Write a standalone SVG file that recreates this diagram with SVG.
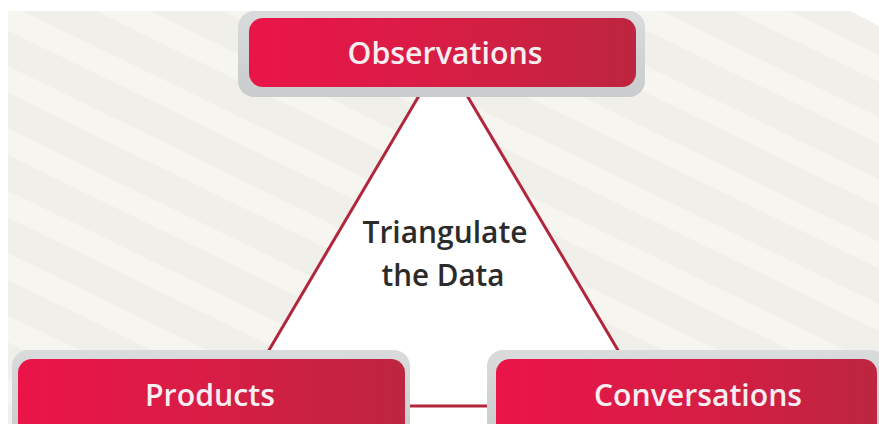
<svg xmlns="http://www.w3.org/2000/svg" width="879" height="424" viewBox="0 0 879 424">
  <defs>
    <linearGradient id="red" x1="0" y1="0" x2="1" y2="0">
      <stop offset="0" stop-color="#ea1449"/>
      <stop offset="0.5" stop-color="#d81d45"/>
      <stop offset="1" stop-color="#bd2540"/>
    </linearGradient>
    <linearGradient id="frame" x1="0" y1="0" x2="0" y2="1">
      <stop offset="0" stop-color="#d9dbdc"/>
      <stop offset="1" stop-color="#c9cccd"/>
    </linearGradient>
    <pattern id="stripes" width="56" height="56" patternUnits="userSpaceOnUse" patternTransform="rotate(26)">
      <rect width="56" height="56" fill="#f1efe9"/>
      <rect width="56" height="24" fill="#f6f5f0"/>
    </pattern>
    <style>
      .frame { fill: url(#frame); }
      .box { fill: url(#red); }
      .label { font-family: "Open Sans", "Liberation Sans", sans-serif; font-weight: 600; font-size: 30px; fill: #f6eef0; text-anchor: middle; }
      .center { font-family: "Open Sans", "Liberation Sans", sans-serif; font-weight: 600; font-size: 30px; fill: #2b2b2b; text-anchor: middle; }
      .conn { stroke: #b2263c; stroke-width: 3; fill: none; }
    </style>
  </defs>

  <!-- background -->
  <rect x="0" y="0" width="879" height="424" fill="#ffffff"/>
  <rect x="8" y="11" width="871" height="413" fill="url(#stripes)"/>
  <polygon points="850,11 879,11 879,26" fill="#ffffff"/>

  <!-- triangle interior -->
  <polygon points="443,55 225,424 662,424" fill="#ffffff"/>

  <g id="connectors">
    <line class="conn" x1="443" y1="55" x2="262" y2="362"/>
    <line class="conn" x1="443" y1="55" x2="625" y2="362"/>
    <line class="conn" x1="405" y1="406" x2="496" y2="406"/>
  </g>

  <g id="center-label">
    <text class="center" x="445" y="243" textLength="165" lengthAdjust="spacingAndGlyphs">Triangulate</text>
    <text class="center" x="443" y="286" textLength="123" lengthAdjust="spacingAndGlyphs">the Data</text>
  </g>

  <g id="observations">
    <rect class="frame" x="238" y="11" width="407" height="86" rx="16"/>
    <rect class="box" x="249" y="18" width="387" height="69" rx="14"/>
    <text class="label" x="445" y="64" textLength="195" lengthAdjust="spacingAndGlyphs">Observations</text>
  </g>

  <g id="products">
    <rect class="frame" x="12" y="350" width="398" height="90" rx="16"/>
    <rect class="box" x="18" y="359" width="387" height="80" rx="14"/>
    <text class="label" x="210" y="406" textLength="130" lengthAdjust="spacingAndGlyphs">Products</text>
  </g>

  <g id="conversations">
    <rect class="frame" x="487" y="350" width="400" height="90" rx="16"/>
    <rect class="box" x="496" y="359" width="381" height="80" rx="14"/>
    <text class="label" x="698" y="406" textLength="208" lengthAdjust="spacingAndGlyphs">Conversations</text>
  </g>
</svg>
